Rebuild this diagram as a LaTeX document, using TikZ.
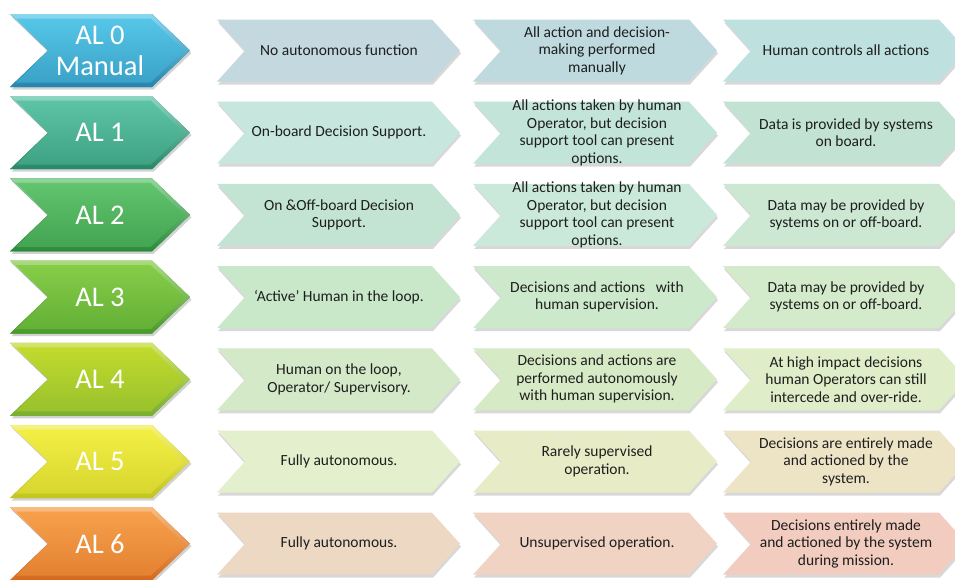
\documentclass[tikz,border=0pt]{standalone}
\usepackage{fontspec}
\setmainfont{Carlito}
\usetikzlibrary{shadows}
% big chevron colours (top / bottom)
\definecolor{b0t}{HTML}{55C6E8}\definecolor{b0b}{HTML}{2585AC}
\definecolor{b1t}{HTML}{5CC3A4}\definecolor{b1b}{HTML}{268868}
\definecolor{b2t}{HTML}{62C46E}\definecolor{b2b}{HTML}{2A8A3A}
\definecolor{b3t}{HTML}{86CC48}\definecolor{b3b}{HTML}{479A28}
\definecolor{b4t}{HTML}{C2DA2C}\definecolor{b4b}{HTML}{78AE2E}
\definecolor{b5t}{HTML}{F2EE44}\definecolor{b5b}{HTML}{C2C41E}
\definecolor{b6t}{HTML}{F6A04C}\definecolor{b6b}{HTML}{D4691C}
% small chevron fills
\definecolor{s01}{HTML}{C3D9DF}\definecolor{s02}{HTML}{BFDADF}\definecolor{s03}{HTML}{BEE1E0}
\definecolor{s11}{HTML}{C6E6DE}\definecolor{s12}{HTML}{C3E4D9}\definecolor{s13}{HTML}{C2E2D3}
\definecolor{s21}{HTML}{C3E4D2}\definecolor{s22}{HTML}{CBE9DA}\definecolor{s23}{HTML}{CDE8D2}
\definecolor{s31}{HTML}{C9E7C9}\definecolor{s32}{HTML}{CDE9CB}\definecolor{s33}{HTML}{D3EBCB}
\definecolor{s41}{HTML}{D3E9C8}\definecolor{s42}{HTML}{D6EAC6}\definecolor{s43}{HTML}{DFEDC9}
\definecolor{s51}{HTML}{E4EFCD}\definecolor{s52}{HTML}{E8ECC6}\definecolor{s53}{HTML}{EDE4C6}
\definecolor{s61}{HTML}{EDD9C3}\definecolor{s62}{HTML}{F0D3C2}\definecolor{s63}{HTML}{F1CCBF}
\definecolor{txt}{HTML}{1E1E1E}
% chevron path: x0, ytop, width, height, depth
\newcommand\chevp[5]{(#1,#2) -- ++({#3-#5},0) -- ++(#5,{#4/2}) -- ++(-#5,{#4/2}) -- ++({-#3+#5},0) -- ++(#5,{-#4/2}) -- cycle}
\tikzset{
  bigshadow/.style={drop shadow={shadow xshift=1.5pt,shadow yshift=-2.5pt,opacity=0.35}},
  smallchev/.style={fill=#1,drop shadow={shadow xshift=1pt,shadow yshift=-3pt,opacity=0.3}},
  bigtxt/.style={text=white,font=\fontsize{28.5}{31}\selectfont,align=center},
  smalltxt/.style={text=txt,font=\fontsize{15.5}{17.5}\selectfont,align=center},
}
\begin{document}
\begin{tikzpicture}[x=1pt,y=-1pt]
\useasboundingbox (0,0) rectangle (955,579);
\clip (0,0) rectangle (955,579);
\fill[white] (0,0) rectangle (955,579);
\foreach \i in {0,...,6}{
  \pgfmathsetmacro\c{50.5+82.2*\i}
  % big chevron
  \path[bigshadow,fill=b\i b] \chevp{10}{\c-36.5}{180}{73}{38};
  \path[top color=b\i t!70!white,bottom color=b\i b] \chevp{10}{\c-36.5}{180}{73}{38};
  \path[top color=b\i t,bottom color=b\i t!45!b\i b] \chevp{16}{\c-32}{168}{64}{33.3};
  % small chevrons
  \path[smallchev=s\i1] \chevp{217}{\c-31}{243}{62}{28};
  \path[smallchev=s\i2] \chevp{473}{\c-31}{244}{62}{28};
  \path[smallchev=s\i3] \chevp{723}{\c-31}{244}{62}{28};
}
% texts
\node[bigtxt] (al0) at (100,50.5) {AL 0\\Manual};
\node[bigtxt] (al1) at (100,132.7) {AL 1};
\node[bigtxt] (al2) at (100,214.9) {AL 2};
\node[bigtxt] (al3) at (100,297.1) {AL 3};
\node[bigtxt] (al4) at (100,379.3) {AL 4};
\node[bigtxt] (al5) at (100,461.5) {AL 5};
\node[bigtxt] (al6) at (100,543.7) {AL 6};

\node[smalltxt] (r0a) at (339,50.5) {No autonomous function};
\node[smalltxt] (r0b) at (597,50.5) {All action and decision-\\making performed\\manually};
\node[smalltxt] (r0c) at (846,50.5) {Human controls all actions};

\node[smalltxt] (r1a) at (339,132.7) {On-board Decision Support.};
\node[smalltxt] (r1b) at (597,132.7) {All actions taken by human\\Operator, but decision\\support tool can present\\options.};
\node[smalltxt] (r1c) at (846,132.7) {Data is provided by systems\\on board.};

\node[smalltxt] (r2a) at (339,214.9) {On \&Off-board Decision\\Support.};
\node[smalltxt] (r2b) at (597,214.9) {All actions taken by human\\Operator, but decision\\support tool can present\\options.};
\node[smalltxt] (r2c) at (846,214.9) {Data may be provided by\\systems on or off-board.};

\node[smalltxt] (r3a) at (339,297.1) {‘Active’ Human in the loop.};
\node[smalltxt] (r3b) at (597,297.1) {Decisions and actions~~~with\\human supervision.};
\node[smalltxt] (r3c) at (846,297.1) {Data may be provided by\\systems on or off-board.};

\node[smalltxt] (r4a) at (339,379.3) {Human on the loop,\\Operator/ Supervisory.};
\node[smalltxt] (r4b) at (597,379.3) {Decisions and actions are\\performed autonomously\\with human supervision.};
\node[smalltxt] (r4c) at (846,379.3) {At high impact decisions\\human Operators can still\\intercede and over-ride.};

\node[smalltxt] (r5a) at (339,461.5) {Fully autonomous.};
\node[smalltxt] (r5b) at (597,461.5) {Rarely supervised\\operation.};
\node[smalltxt] (r5c) at (846,461.5) {Decisions are entirely made\\and actioned by the\\system.};

\node[smalltxt] (r6a) at (339,543.7) {Fully autonomous.};
\node[smalltxt] (r6b) at (597,543.7) {Unsupervised operation.};
\node[smalltxt] (r6c) at (846,543.7) {Decisions entirely made\\and actioned by the system\\during mission.};
\end{tikzpicture}
\end{document}
